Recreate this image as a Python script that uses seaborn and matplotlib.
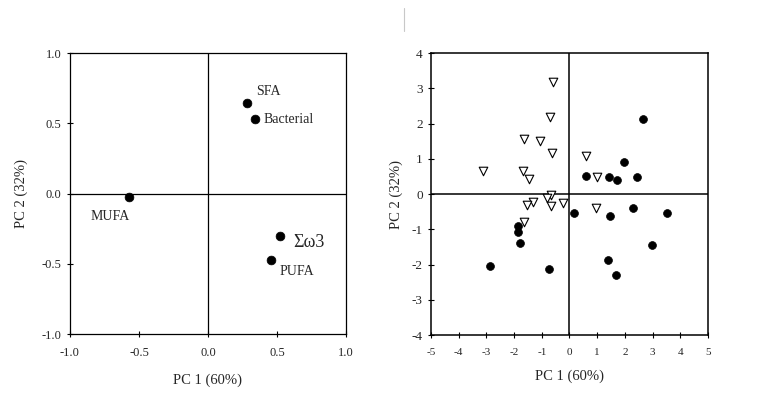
import pandas as pd
import matplotlib.pyplot as plt
import seaborn as sns
from matplotlib.lines import Line2D

# loadings (left panel)
fa_names = ['SFA', 'Bacterial', 'MUFA', 'Σω3', 'PUFA']
fa_pc1 = [0.28, 0.34, -0.57, 0.52, 0.46]
fa_pc2 = [0.645, 0.53, -0.025, -0.30, -0.47]

# scores (right panel)
tri_pc1 = [-0.58, -0.70, -1.65, -1.07, -0.63, -3.11, -1.68, -1.45, 0.61, 1.01,
           -0.65, -0.80, -0.67, -1.33, -1.53, -0.23, 0.95, -1.64]
tri_pc2 = [3.17, 2.19, 1.57, 1.52, 1.16, 0.66, 0.67, 0.42, 1.07, 0.49,
           -0.02, -0.12, -0.35, -0.21, -0.30, -0.26, -0.39, -0.80]
dot_pc1 = [2.64, 1.97, 0.60, 1.43, 1.72, 2.43, 0.16, 1.48, 2.30, 3.52,
           2.97, 1.39, 1.69, -0.73, -2.88, -1.79, -1.86, -1.86]
dot_pc2 = [2.12, 0.92, 0.51, 0.50, 0.40, 0.49, -0.54, -0.63, -0.39, -0.54,
           -1.43, -1.87, -2.30, -2.13, -2.05, -1.39, -0.91, -1.07]

sns.set_style('white')
plt.rcParams['font.family'] = ['Liberation Serif', 'DejaVu Serif']
plt.rcParams['axes.unicode_minus'] = False

fig = plt.figure(figsize=(7.58, 3.93), dpi=100)
ax1 = fig.add_axes([0.0923, 0.150, 0.3642, 0.715])
ax2 = fig.add_axes([0.5686, 0.147, 0.3654, 0.718])

load_df = pd.DataFrame({'pc1': fa_pc1, 'pc2': fa_pc2, 'name': fa_names})
sns.scatterplot(data=load_df, x='pc1', y='pc2', ax=ax1, color='black',
                s=40, edgecolor='black', linewidth=0.5, zorder=3)

# label offsets in data units
offsets = {'SFA': (0.07, 0.08, 10), 'Bacterial': (0.06, -0.005, 10),
           'MUFA': (-0.28, -0.14, 10), 'Σω3': (0.10, -0.045, 13),
           'PUFA': (0.06, -0.085, 10)}
for name, x, y in zip(fa_names, fa_pc1, fa_pc2):
    dx, dy, fs = offsets[name]
    ax1.text(x + dx, y + dy, name, fontsize=fs, va='center', ha='left')

ax1.set_xlim(-1.0, 1.0)
ax1.set_ylim(-1.0, 1.0)
ax1.set_xticks([-1.0, -0.5, 0.0, 0.5, 1.0])
ax1.set_yticks([-1.0, -0.5, 0.0, 0.5, 1.0])
ax1.set_xticklabels(['-1.0', '-0.5', '0.0', '0.5', '1.0'])
ax1.set_yticklabels(['-1.0', '-0.5', '0.0', '0.5', '1.0'])

score_df = pd.concat([
    pd.DataFrame({'pc1': tri_pc1, 'pc2': tri_pc2, 'grp': 'tri'}),
    pd.DataFrame({'pc1': dot_pc1, 'pc2': dot_pc2, 'grp': 'dot'}),
])
sns.scatterplot(data=score_df[score_df.grp == 'tri'], x='pc1', y='pc2', ax=ax2,
                marker='v', s=38, facecolor='white', edgecolor='black',
                linewidth=0.8, zorder=3)
sns.scatterplot(data=score_df[score_df.grp == 'dot'], x='pc1', y='pc2', ax=ax2,
                marker='o', s=32, color='black', edgecolor='black',
                linewidth=0.5, zorder=3)

ax2.set_xlim(-5, 5)
ax2.set_ylim(-4, 4)
ax2.set_xticks(range(-5, 6))
ax2.set_yticks(range(-4, 5))

for ax, lw in [(ax1, 0.9), (ax2, 1.1)]:
    ax.axhline(0, color='black', lw=lw, zorder=1)
    ax.axvline(0, color='black', lw=lw, zorder=1)
    for sp in ax.spines.values():
        sp.set_color('black')
        sp.set_linewidth(lw)
    ax.tick_params(direction='inout', length=5, width=0.8, color='black',
                   bottom=True, left=True)
    ax.tick_params(axis='x', pad=7)
    ax.set_xlabel('PC 1 (60%)', fontsize=10.5, labelpad=10)
    ax.set_ylabel('PC 2 (32%)', fontsize=10.5, labelpad=6)

ax1.tick_params(labelsize=9)
ax1.yaxis.labelpad = 10
ax2.tick_params(axis='x', labelsize=8)
ax2.tick_params(axis='y', labelsize=9.5)
ax2.xaxis.labelpad = 9

# small scan artefact at the top of the original figure
fig.add_artist(Line2D([0.533, 0.533], [0.922, 0.98], color='#c8c8c8', lw=0.8))

fig.savefig('out.png', dpi=100)
